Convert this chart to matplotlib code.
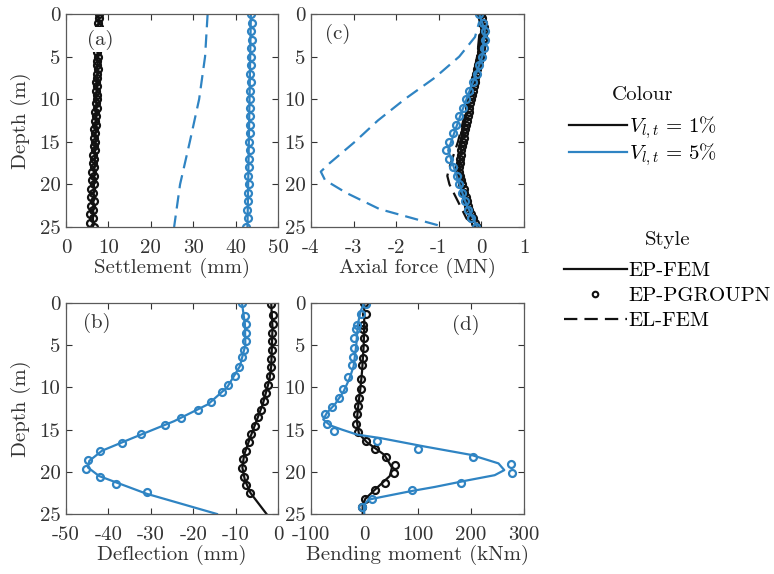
import numpy as np
import matplotlib
matplotlib.use("Agg")
import matplotlib.pyplot as plt
from matplotlib.lines import Line2D

plt.rcParams['font.family'] = ['cmr10', 'DejaVu Serif']
plt.rcParams['mathtext.fontset'] = 'cm'
plt.rcParams['axes.unicode_minus'] = False
plt.rcParams['font.size'] = 15

BLACK = '#111111'
BLUE = '#2f84c3'
GREY = '#333333'

# ---------------- (a) settlement ----------------
a_pg1_depth = np.arange(0, 25.01, 0.5)
a_pg1 = [7.9, 7.8, 7.6, 7.7, 7.6, 7.5, 7.6, 7.4, 7.5, 7.3, 7.6, 7.4, 7.3, 7.5, 7.2, 7.4, 7.1,
         7.3, 7.0, 7.2, 7.3, 7.0, 7.2, 6.9, 7.1, 6.8, 7.0, 6.7, 6.9, 6.6, 6.8, 6.5, 6.9, 6.4,
         6.7, 6.3, 6.6, 6.2, 6.7, 6.1, 6.5, 6.0, 6.4, 5.9, 6.5, 5.8, 6.3, 5.7, 6.4, 5.6, 6.5]
a_fem1_depth = [0, 5, 10, 15, 20, 25]
a_fem1 = [7.7, 7.5, 7.2, 6.9, 6.6, 6.3]
a_pg5_depth = np.arange(0, 25.01, 1.0)
a_pg5 = [43.7, 43.8, 43.7, 43.8, 43.6, 43.7, 43.6, 43.5, 43.6, 43.5, 43.4, 43.5, 43.4,
         43.3, 43.4, 43.2, 43.3, 43.1, 43.2, 43.0, 43.1, 42.9, 43.0, 42.8, 42.9, 42.5]
a_fem5_depth = [0, 25]
a_fem5 = [43.6, 42.8]
a_el5_depth = [0, 5, 10, 15, 20, 25]
a_el5 = [33.4, 32.8, 31.4, 29.2, 26.9, 25.5]

# ---------------- (c) axial force ----------------
c_pg1_depth = np.arange(0, 25.01, 0.5)
c_pg1 = [0.0, 0.02, 0.04, 0.05, 0.05, 0.04, 0.03, 0.02, 0.0, -0.02, -0.04, -0.06, -0.08,
         -0.1, -0.12, -0.14, -0.16, -0.18, -0.2, -0.22, -0.24, -0.26, -0.28, -0.3, -0.32,
         -0.34, -0.36, -0.38, -0.4, -0.42, -0.44, -0.46, -0.47, -0.48, -0.5, -0.51, -0.52,
         -0.53, -0.5, -0.48, -0.45, -0.42, -0.4, -0.37, -0.34, -0.31, -0.28, -0.24, -0.2,
         -0.15, -0.1]
c_fem1_depth = [0, 2, 5, 10, 15, 18.5, 20, 22, 25]
c_fem1 = [0.0, 0.02, -0.08, -0.28, -0.47, -0.52, -0.45, -0.35, -0.1]
c_el1_depth = [0, 5, 10, 15, 18, 19, 20, 21, 22, 23, 24, 25]
c_el1 = [0.0, -0.1, -0.3, -0.55, -0.75, -0.8, -0.75, -0.65, -0.55, -0.45, -0.35, -0.1]
c_pg5_depth = np.arange(0, 25.01, 1.0)
c_pg5 = [-0.05, 0.03, 0.09, 0.08, 0.05, 0.01, -0.05, -0.11, -0.2, -0.3, -0.36, -0.44,
         -0.52, -0.6, -0.67, -0.75, -0.82, -0.75, -0.66, -0.58, -0.52, -0.45, -0.38,
         -0.32, -0.25, -0.12]
c_fem5_depth = [0, 2, 5, 8, 12, 16, 19, 22, 25]
c_fem5 = [-0.05, 0.08, 0.02, -0.2, -0.5, -0.78, -0.58, -0.38, -0.1]
c_el5_depth = [0, 2.7, 5, 7.5, 10, 12.5, 15, 17.5, 18.5, 19.5, 21, 22.9, 24.2, 25]
c_el5 = [0.0, -0.15, -0.52, -1.1, -1.8, -2.43, -2.97, -3.56, -3.77, -3.67, -3.17,
         -2.39, -1.45, -0.87]

# ---------------- (b) deflection ----------------
b_pg1_depth = [0.08, 1.38, 2.45, 3.51, 4.53, 5.6, 6.58, 7.57, 8.67, 9.66, 10.65, 11.59,
               12.62, 13.49, 14.55, 15.54, 16.52, 17.51, 18.53, 19.6, 20.66, 21.53, 22.48]
b_pg1 = [-1.57, -1.18, -1.18, -1.33, -1.49, -1.49, -1.57, -1.57, -1.96, -2.35, -2.75,
         -3.3, -3.92, -4.71, -5.49, -6.28, -6.91, -7.61, -8.24, -8.4, -8.0, -7.46, -6.52]
b_fem1_depth = [0, 3, 7.5, 9, 10, 12, 14, 16, 18, 19.5, 21, 22.5, 25]
b_fem1 = [-1.6, -1.3, -1.6, -2.0, -2.5, -3.6, -5.1, -6.6, -8.0, -8.4, -7.8, -6.5, -2.7]
b_pg5_depth = [0, 1.5, 2.5, 3.51, 4.53, 5.6, 6.39, 7.57, 8.67, 9.74, 10.6, 11.7, 12.7,
               13.6, 14.5, 15.5, 16.6, 17.5, 18.6, 19.7, 20.6, 21.5, 22.4]
b_pg5 = [-8.48, -7.85, -7.61, -7.46, -7.61, -8.0, -8.48, -9.18, -10.2, -11.8, -13.3,
         -15.7, -18.8, -22.8, -26.7, -32.2, -36.9, -42.0, -44.7, -45.3, -42.0, -38.1, -31.0]
b_fem5_depth = [0, 2.5, 5, 7.5, 10, 12, 14, 16, 17.5, 18.7, 19.5, 20.5, 22.6, 25]
b_fem5 = [-8.5, -7.8, -7.7, -9.0, -12.0, -16.5, -24.5, -34.3, -41.5, -44.5, -44.8,
          -42.2, -31.0, -14.4]

# ---------------- (d) bending moment ----------------
d_pg1_depth = [0, 1.3, 2.6, 3.1, 4.2, 5.3, 6.5, 7.4, 9.0, 10.2, 11.2, 12.2, 13.2, 14.3,
               15.3, 16.4, 17.3, 18.2, 19.2, 20.2, 21.3, 22.2, 23.2, 24.2]
d_pg1 = [0, 3.5, -3, -3, -1, -1, -3, -5, -7, -7, -10, -12, -14, -15, -11, 4, 21, 41, 58,
         55, 39, 21, 2, -4]
d_fem1_depth = [0, 2, 5, 8, 10, 12, 14, 15.5, 16.5, 18, 19.5, 20.5, 22, 23.2, 24, 25]
d_fem1 = [0, 0, -1, -4, -7, -11, -14, -10, 5, 38, 52, 48, 22, 2, -3, -3]
d_pg5_depth = [0.1, 1.3, 2.6, 3.1, 4.2, 5.3, 6.4, 7.4, 8.8, 10.2, 11.2, 12.3, 13.2, 14.3,
               15.2, 16.3, 17.3, 18.2, 19.1, 20.2, 21.3, 22.1, 23.2, 24.2]
d_pg5 = [4, -7, -14, -15, -20, -20, -21, -23, -31, -39, -48, -61, -73, -70, -56, 24, 100,
         204, 275, 277, 181, 89, 14, -5]
d_fem5_depth = [0, 1, 2.5, 5, 7.5, 9, 10.5, 12, 13, 13.8, 14.5, 15, 15.6, 16, 17, 18, 19,
                19.8, 20.4, 21, 21.8, 22.3, 23, 23.3, 24, 25]
d_fem5 = [0, -7, -12, -15, -20, -28, -39, -55, -70, -77, -64, -42, -13, 30, 113, 201, 252,
          263, 245, 195, 132, 87, 31, 8, -1, 0]

fig = plt.figure(figsize=(7.74, 5.74), dpi=100)
W, H = 774, 574


def add_ax(l, t, r, b):
    return fig.add_axes([l / W, 1 - b / H, (r - l) / W, (b - t) / H])


ax_a = add_ax(66, 14, 278, 227)
ax_c = add_ax(311, 14, 524, 227)
ax_b = add_ax(66, 303, 278, 514)
ax_d = add_ax(311, 303, 524, 514)

mk = dict(marker='o', ls='none', mfc='none', ms=5, mew=1.6)
dash = dict(lw=1.6, dashes=(6, 3.2))


def pg(ax, x, y, c):
    ax.plot(x, y, color=c, **mk)


pg(ax_a, a_pg1, a_pg1_depth, BLACK)
ax_a.plot(a_fem1, a_fem1_depth, color=BLACK, lw=1.6)
ax_a.plot(a_el5, a_el5_depth, color=BLUE, **dash)
ax_a.plot(a_fem5, a_fem5_depth, color=BLUE, lw=1.6)
pg(ax_a, a_pg5, a_pg5_depth, BLUE)

ax_c.plot(c_el5, c_el5_depth, color=BLUE, **dash)
ax_c.plot(c_el1, c_el1_depth, color=BLACK, **dash)
pg(ax_c, c_pg1, c_pg1_depth, BLACK)
ax_c.plot(c_fem1, c_fem1_depth, color=BLACK, lw=1.6)
ax_c.plot(c_fem5, c_fem5_depth, color=BLUE, lw=1.6)
pg(ax_c, c_pg5, c_pg5_depth, BLUE)

ax_b.plot(b_fem1, b_fem1_depth, color=BLACK, lw=1.6)
pg(ax_b, b_pg1, b_pg1_depth, BLACK)
ax_b.plot(b_fem5, b_fem5_depth, color=BLUE, lw=1.6)
pg(ax_b, b_pg5, b_pg5_depth, BLUE)

ax_d.plot(d_fem1, d_fem1_depth, color=BLACK, lw=1.6)
pg(ax_d, d_pg1, d_pg1_depth, BLACK)
ax_d.plot(d_fem5, d_fem5_depth, color=BLUE, lw=1.6)
pg(ax_d, d_pg5, d_pg5_depth, BLUE)

settings = [
    (ax_a, (0, 50), [0, 10, 20, 30, 40, 50], 'Settlement (mm)', '(a)', (8.0, 3.0)),
    (ax_c, (-4, 1), [-4, -3, -2, -1, 0, 1], 'Axial force (MN)', '(c)', (-3.37, 2.3)),
    (ax_b, (-50, 0), [-50, -40, -30, -20, -10, 0], 'Deflection (mm)', '(b)', (-42.7, 2.4)),
    (ax_d, (-100, 300), [-100, 0, 100, 200, 300], 'Bending moment (kNm)', '(d)', (190, 2.6)),
]
for ax, xl, xt, lab, tag, pos in settings:
    ax.set_xlim(*xl)
    ax.set_xticks(xt)
    ax.set_ylim(25, 0)
    ax.set_yticks([0, 5, 10, 15, 20, 25])
    ax.set_xlabel(lab, color=GREY, labelpad=0)
    ax.tick_params(direction='in', top=True, right=True, length=4, width=0.8,
                   colors=GREY, labelsize=15, pad=4)
    ax.tick_params(axis='x', pad=9)
    for s in ax.spines.values():
        s.set_color('#5a5a5a')
        s.set_linewidth(0.9)
    ax.text(pos[0], pos[1], tag, ha='center', va='center', fontsize=15, color=GREY,
            zorder=10, bbox=dict(fc='white', ec='none', pad=1.5))

ax_a.set_ylabel('Depth (m)', color=GREY, labelpad=6)
ax_b.set_ylabel('Depth (m)', color=GREY, labelpad=6)

# legends: titles as separate text, entries via fig.legend
fig.text(643 / W, 1 - 95 / H, 'Colour', ha='center', va='center', fontsize=15, color=BLACK)
fig.text(668 / W, 1 - 240 / H, 'Style', ha='center', va='center', fontsize=15, color=BLACK)

colour_handles = [Line2D([], [], color=BLACK, lw=1.6), Line2D([], [], color=BLUE, lw=1.6)]
fig.legend(colour_handles, [r'$V_{l,t}\,=\,1\%$', r'$V_{l,t}\,=\,5\%$'],
           loc='center left', bbox_to_anchor=(569 / W, 1 - 141 / H), frameon=False,
           fontsize=15, handlelength=2.8, handletextpad=0.1,
           labelspacing=0.0, borderaxespad=0, borderpad=0)
style_handles = [Line2D([], [], color=BLACK, lw=1.6),
                 Line2D([], [], color=BLACK, marker='o', ls='none', mfc='none', ms=4, mew=1.5),
                 Line2D([], [], color=BLACK, **dash)]
fig.legend(style_handles, ['EP-FEM', 'EP-PGROUPN', 'EL-FEM'],
           loc='center left', bbox_to_anchor=(564 / W, 1 - 296 / H), frameon=False,
           fontsize=15, handlelength=3.0, handletextpad=0.1,
           labelspacing=0.3, borderaxespad=0, borderpad=0)

plt.savefig('out.png', dpi=100)
